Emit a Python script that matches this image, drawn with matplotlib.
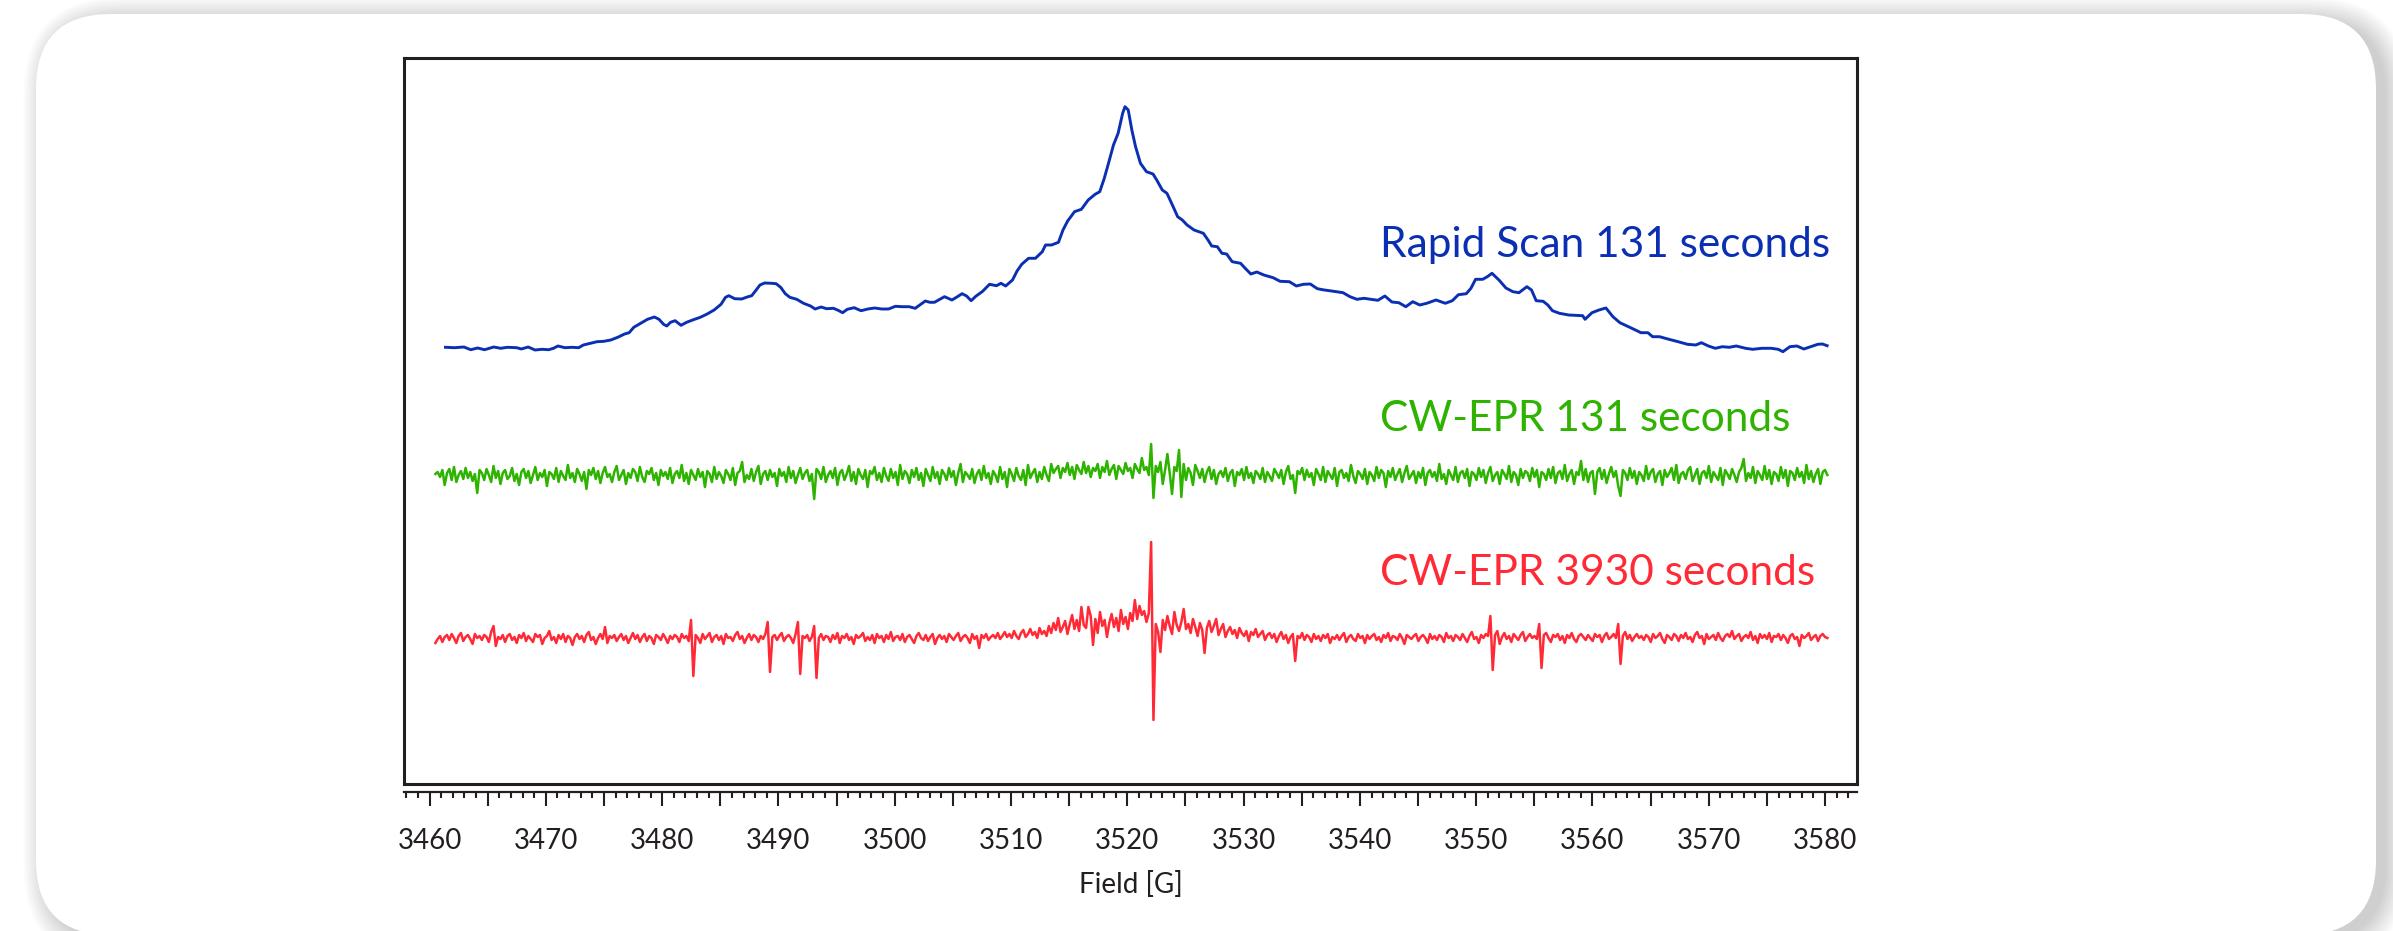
import numpy as np
import matplotlib
matplotlib.use('Agg')
import matplotlib.pyplot as plt
from matplotlib.patches import FancyBboxPatch
from matplotlib.ticker import MultipleLocator, FuncFormatter

plt.rcParams['font.family'] = ['Lato', 'DejaVu Sans']

# Rapid scan absorption spectrum (field in G, intensity in a.u.)
rs_field = [
    3461.37, 3462.16, 3462.95, 3463.54, 3464.13, 3464.73, 3465.52, 3466.11, 3466.70, 3467.49,
    3467.89, 3468.48, 3469.07, 3469.66, 3470.25, 3470.65, 3471.04, 3471.64, 3472.23, 3472.82,
    3473.22, 3473.81, 3474.40, 3474.99, 3475.58, 3476.18, 3476.77, 3477.16, 3477.56, 3478.15,
    3478.74, 3479.33, 3479.73, 3480.12, 3480.40, 3480.72, 3481.11, 3481.62, 3482.10, 3482.69,
    3483.28, 3483.87, 3484.47, 3485.06, 3485.45, 3485.73, 3486.24, 3486.84, 3487.31, 3487.70,
    3488.02, 3488.41, 3488.81, 3489.40, 3489.80, 3490.19, 3490.59, 3490.98, 3491.57, 3492.16,
    3492.76, 3493.15, 3493.67, 3494.14, 3494.73, 3495.13, 3495.52, 3495.92, 3496.51, 3497.10,
    3497.69, 3498.28, 3498.88, 3499.47, 3500.06, 3500.65, 3501.24, 3501.76, 3502.23, 3502.63,
    3503.02, 3503.42, 3503.81, 3504.28, 3504.92, 3505.39, 3505.79, 3506.18, 3506.57, 3506.97,
    3507.56, 3508.15, 3508.75, 3509.14, 3509.54, 3510.13, 3510.52, 3510.92, 3511.51, 3512.10,
    3512.69, 3512.97, 3513.48, 3514.08, 3514.47, 3514.87, 3515.46, 3516.05, 3516.64, 3517.23,
    3517.63, 3518.02, 3518.42, 3518.81, 3519.21, 3519.60, 3519.80, 3520.08, 3520.39, 3520.71,
    3521.13, 3521.65, 3522.21, 3522.53, 3523.01, 3523.41, 3523.81, 3524.33, 3524.73, 3525.14,
    3525.74, 3526.54, 3526.94, 3527.26, 3527.74, 3528.14, 3528.54, 3529.02, 3529.74, 3530.14,
    3530.62, 3531.14, 3531.74, 3532.54, 3533.14, 3533.94, 3534.54, 3535.14, 3535.74, 3536.34,
    3536.94, 3537.75, 3538.55, 3539.15, 3539.75, 3540.35, 3540.95, 3541.55, 3542.15, 3542.75,
    3543.35, 3543.95, 3544.55, 3545.15, 3545.75, 3546.55, 3547.35, 3547.95, 3548.47, 3549.15,
    3549.55, 3549.95, 3550.56, 3550.96, 3551.36, 3551.96, 3552.56, 3553.16, 3553.68, 3554.36,
    3554.76, 3555.16, 3555.76, 3556.16, 3556.56, 3557.16, 3557.96, 3558.56, 3559.16, 3559.36,
    3559.96, 3560.56, 3561.16, 3561.76, 3562.36, 3562.97, 3563.57, 3564.17, 3564.77, 3565.17,
    3565.77, 3566.57, 3567.37, 3568.17, 3568.89, 3569.37, 3569.97, 3570.57, 3571.17, 3571.77,
    3572.37, 3573.17, 3573.77, 3574.57, 3575.38, 3575.98, 3576.38, 3576.98, 3577.58, 3578.18,
    3578.78, 3579.38, 3579.78, 3580.18,
]
rs_signal = [
    0.7, 0.3, 1.0, -1.7, 0.0, -1.7, 1.0, -0.3, 0.7, 0.3,
    -1.0, 1.0, -2.0, -1.3, -1.7, -0.3, 2.0, 0.3, 0.7, 0.3,
    3.0, 4.7, 6.3, 6.7, 8.0, 10.7, 14.0, 15.3, 20.7, 24.7,
    28.7, 31.0, 28.7, 23.7, 22.0, 25.7, 27.3, 22.7, 25.7, 28.3,
    30.7, 34.0, 38.0, 43.7, 50.7, 52.3, 49.3, 49.0, 51.0, 52.3,
    57.0, 63.0, 65.0, 64.7, 64.3, 60.7, 54.3, 50.7, 48.7, 44.7,
    42.0, 39.0, 41.0, 39.3, 39.7, 37.7, 35.3, 38.7, 40.3, 37.3,
    39.0, 40.0, 39.0, 39.0, 41.7, 41.3, 41.3, 39.7, 43.7, 47.0,
    45.7, 45.7, 48.3, 51.3, 48.0, 51.3, 54.3, 52.0, 47.3, 51.7,
    56.7, 63.7, 62.3, 64.7, 62.0, 68.0, 77.0, 83.7, 89.7, 89.7,
    96.3, 103.0, 103.0, 105.7, 118.0, 127.0, 136.3, 138.7, 148.0, 153.7,
    156.3, 169.7, 186.3, 203.0, 214.7, 234.7, 241.3, 238.0, 218.0, 201.3,
    184.7, 176.3, 174.0, 168.0, 158.0, 154.7, 144.7, 131.3, 128.0, 123.0,
    118.0, 114.7, 108.0, 102.0, 101.3, 94.7, 94.0, 86.3, 84.7, 79.7,
    74.0, 76.0, 73.0, 70.3, 66.7, 66.3, 62.0, 63.7, 64.0, 59.3,
    58.0, 56.7, 55.3, 51.3, 48.7, 49.7, 48.7, 47.7, 52.0, 46.0,
    45.3, 41.3, 46.3, 43.0, 44.7, 48.0, 44.7, 47.3, 53.3, 54.3,
    59.7, 68.7, 68.7, 71.3, 74.7, 68.0, 60.0, 56.3, 55.3, 61.3,
    58.0, 47.3, 46.7, 43.0, 37.3, 34.7, 33.0, 32.7, 32.3, 28.7,
    35.3, 38.0, 40.0, 31.3, 25.3, 22.0, 18.7, 15.3, 15.3, 11.3,
    11.3, 8.7, 6.3, 3.7, 3.0, 5.3, 2.0, -0.3, 1.3, 0.7,
    2.0, -0.3, -1.3, -0.3, -0.3, -1.3, -3.7, 1.3, 2.0, -1.0,
    1.3, 3.7, 4.0, 2.3,
]

# CW-EPR sweeps: 600 points from 3460.5 G to 3580.2 G
cw_start, cw_stop = 3460.5, 3580.2
cw131_signal = [
    2, 4, -1, 6, -9, 3, 7, -4, 9, -6, 1, 5, -3, 8, -2, 4, -5, 2, -17, 6,
    3, -4, 7, 1, -6, 10, -2, 5, -8, 3, 6, -3, 0, 8, -5, 2, -9, 4, 7, -2,
    5, -7, 1, 9, -4, 3, -1, 6, -10, 4, 2, -3, 8, -6, 5, 0, -4, 11, -2, 3,
    -6, 7, 2, -5, 4, -13, 6, 1, 8, -3, 5, -7, 3, 9, -1, 2, -6, 4, 10, -4,
    1, 6, -8, 3, -2, 7, 4, -5, 9, -1, -6, 5, 2, 8, -4, 3, -9, 6, 0, 4,
    -3, 8, -7, 2, 5, -2, 11, -5, 3, -8, 6, 1, -4, 7, -1, 4, -11, 5, 2, -6,
    9, -3, 4, 0, -7, 6, 2, -4, 8, -9, 3, 5, 14, -6, 1, -3, 7, -5, 4, 10,
    -8, 2, 5, -4, 6, -1, 3, -10, 7, 0, 4, -6, 9, -2, 5, -7, 1, 8, -3, 3,
    6, -5, 2, -23, 7, 4, -3, 9, -6, 1, 5, -2, 8, -9, 3, 6, -4, 2, 10, -5,
    4, -8, 7, 1, -3, 6, -11, 5, 2, 9, -4, 3, -6, 8, 0, -5, 7, -2, 4, -9,
    11, -3, 5, 2, -7, 6, -1, 8, -4, 3, -10, 7, 1, -5, 9, -2, 4, -8, 6, 2,
    -4, 8, -1, 5, -9, 3, 12, -6, 4, 1, -3, 7, -7, 2, 6, -4, 10, -2, 3, -8,
    5, 1, -6, 9, -3, 4, -11, 7, 2, -5, 8, 0, -4, 6, -9, 11, -2, 3, 7, -6,
    4, -3, 9, 1, -5, 12, 3, 7, 10, -2, 8, 4, 13, 1, 9, -3, 11, 6, 2, 14,
    3, 10, -1, 8, 5, 12, -2, 9, 4, 15, 1, 7, 11, -3, 10, 6, 2, 13, 5, 8,
    -2, 12, 7, 3, 18, 6, 9, 1, 32, -22, 10, 4, 14, -8, 6, 22, 3, -18, 9, 5,
    26, -21, 12, -4, 8, 3, -9, 11, 5, -2, 7, -6, 4, 9, -3, 6, -8, 2, 5, -1,
    8, -5, 3, 6, -10, 4, 1, 7, -4, 9, -2, 3, -7, 5, 2, -3, 8, -6, 4, 0,
    -5, 7, 3, -2, 6, -8, 4, 10, -3, 1, -17, 5, 2, 8, -4, 6, -1, 3, -9, 7,
    2, -4, 9, -6, 5, 1, -3, 8, -10, 4, 6, -2, 3, -5, 11, 0, -7, 5, 2, -3,
    7, -8, 4, 1, -5, 9, -2, 6, 3, -11, 5, -1, 8, -4, 2, 7, -6, 3, 10, -3,
    1, 5, -7, 4, -2, 8, -9, 3, 6, -1, 4, -5, 12, -3, 2, -8, 6, 1, -4, 9,
    -6, 3, 5, -2, 7, -10, 4, 2, -4, 8, -1, 6, -7, 3, 9, -5, 1, 4, -8, 6,
    2, -3, 10, -6, 4, 1, -9, 7, -2, 5, 3, -5, 8, -1, 6, -11, 4, 2, -4, 7,
    -2, 9, -7, 3, 5, -3, 11, -5, 2, 6, -8, 4, 1, 15, -4, 7, -6, 3, 5, -18,
    4, 8, -3, 6, -7, 2, 9, -1, 5, -10, -20, 6, 3, -4, 8, -2, 5, -8, 4, 1,
    -5, 10, -3, 4, 7, -6, 2, 5, -9, 6, -1, 3, 8, -4, 11, -7, 2, 4, -3, 6,
    9, -5, 1, 7, -8, 3, 5, -2, 10, -6, 4, 0, -4, 8, -9, 6, 2, -3, 7, 1,
    -6, 4, 8, 17, -5, 3, -2, 9, -7, 5, 1, -4, 10, -3, 6, -8, 4, 2, -5, 9,
    -2, 6, -10, 5, 3, -4, 8, -1, 4, -7, 11, -3, 5, -6, 2, 7, -8, 4, 6, 1,
]
cw3930_signal = [
    -3, 1, 4, -2, 3, 5, 0, 6, 2, -3, 4, 7, -1, 3, 5, 1, -4, 6, 2, 4,
    0, 5, 3, -2, 8, 14, -6, 3, 1, 5, -2, 4, 6, 0, 3, -3, 5, 2, 7, -1,
    4, 1, -2, 6, 3, 5, -4, 2, 4, 9, 0, 3, -3, 5, 1, 6, -2, 4, 2, -5,
    3, 6, 1, 4, -2, 5, 8, 0, 3, -4, 2, 6, 1, 13, -3, 4, 2, 5, -1, 3,
    6, 0, 4, -3, 2, 7, 1, 5, -2, 3, 6, -1, 4, 2, -4, 5, 3, 0, 6, 2,
    -3, 4, 1, 5, 3, -2, 6, 2, 4, -1, 20, -36, 5, 2, -3, 6, 1, 4, 7, -2,
    3, 5, 0, 4, -4, 6, 2, 3, -1, 5, 8, 1, 4, -3, 2, 6, 0, 5, 3, -2,
    4, 1, 6, 18, -32, 3, 5, 0, 4, 7, -1, 3, 5, 2, -3, 6, 18, -34, 4, 2,
    5, -1, 3, 14, -38, 2, 6, 0, 4, 3, -2, 5, 1, 7, -3, 4, 2, 6, 0, 3,
    -4, 5, 2, 4, 7, -1, 3, 0, 5, -3, 6, 2, 4, -2, 5, 1, 8, -1, 3, 4,
    0, 6, -2, 3, 5, 1, -3, 4, 7, 2, 0, 5, -1, 3, 6, -4, 2, 5, 1, 4,
    -2, 6, 3, 0, 4, 7, -1, 3, 5, 2, -3, 6, 1, 4, -8, 5, 2, 6, 0, 3,
    5, 2, 7, 1, 4, 8, 3, 6, 2, 9, 4, 1, 7, 10, 3, 6, 11, 5, 8, 2,
    12, 6, 9, 4, 14, 7, 17, 10, 22, 8, 13, 19, 6, 16, 25, 11, 20, 9, 33, 15,
    12, 33, 24, -5, 21, 7, 28, 14, 20, 3, 17, 26, 13, 22, 9, 30, 16, 23, 11, 27,
    19, 40, 21, 34, 25, 29, 18, 27, 98, -80, 16, 8, -12, 20, 10, 24, 14, 6, 28, 15,
    9, 18, 31, 11, 16, 7, 21, 13, 4, 17, 10, -13, 12, 19, 8, 14, 21, 5, 11, 16,
    3, 9, 13, 6, 10, 2, 12, 7, 4, 9, -1, 8, 5, 11, 3, 6, 9, 0, 5, 7,
    2, 6, -2, 4, 8, 1, 5, -3, 3, 6, -21, 4, 2, 7, 0, 5, 3, -2, 6, 1,
    4, -1, 5, 2, 6, -3, 3, 1, 5, 0, 4, 7, -2, 3, 5, 1, -1, 6, 2, 4,
    -3, 5, 1, 4, 6, 0, 3, -2, 5, 2, 7, -1, 4, 3, 0, 6, 2, -4, 5, 3,
    1, 4, 6, -1, 3, 5, 2, -3, 6, 1, 4, 0, 5, 3, -2, 7, 2, 4, -1, 5,
    3, 0, 6, 2, -2, 4, 8, 1, 3, -3, 5, 2, 6, 4, 24, -30, 5, 9, -4, 3,
    7, 1, 4, -2, 6, 3, 0, 5, 8, -1, 3, 6, 2, 4, 1, 16, -28, 5, 7, 2,
    -2, 5, 3, 6, 0, 4, -3, 5, 2, 7, 1, -2, 4, 6, 3, 0, 5, 2, -1, 6,
    3, 5, -2, 4, 7, 1, 3, 6, 2, 16, -24, 4, 8, 1, 5, -1, 3, 6, 2, 4,
    0, 5, 3, -2, 6, 2, 4, 7, 1, -3, 5, 3, 0, 6, 4, -1, 5, 2, 7, 1,
    3, -2, 5, 8, 2, 4, -4, 6, 1, 3, 5, 0, 7, 2, -1, 4, 6, 3, 9, 1,
    4, 6, -1, 3, 5, 2, 8, 0, 4, -3, 6, 2, 5, 1, 7, -2, 4, 3, 6, 0,
    5, 2, -3, 4, 6, 1, 3, -6, 5, 2, 4, 7, 0, 3, 5, -1, 4, 6, 3, 2,
]

labels = ['Rapid Scan 131 seconds', 'CW-EPR 131 seconds', 'CW-EPR 3930 seconds']
colors = ['#0b2fb3', '#2db300', '#ff2a36']
offsets = [436, 308, 144]          # vertical stacking of the traces
label_y = [527, 353, 199]
label_x = 3541.7

W, H = 2393, 931
fig = plt.figure(figsize=(W / 100, H / 100), dpi=100)
fig.patch.set_facecolor('white')

# card background with soft shadow (offset to the right)
bg = fig.add_axes([0, 0, 1, 1])
bg.set_xlim(0, W)
bg.set_ylim(H, 0)
bg.axis('off')
for k in range(16):
    p = k * 1.5
    bg.add_patch(FancyBboxPatch((36 - p + 10, 14 - p + 6), 2340 + 2 * p, 921 + 2 * p,
                                boxstyle='round,pad=0,rounding_size=%g' % (75 + p),
                                fc='black', ec='none', alpha=0.012))
bg.add_patch(FancyBboxPatch((36, 14), 2340, 921, boxstyle='round,pad=0,rounding_size=75',
                            fc='white', ec='none'))

x0, x1 = 3457.8, 3582.75
left, right = 404 / W, 1857 / W
top, bottom = 58 / H, 784 / H

ax = fig.add_axes([left, 1 - bottom, right - left, bottom - top])
ax.set_xlim(x0, x1)
ax.set_ylim(0, 726)
ax.set_xticks([])
ax.set_yticks([])
ax.patch.set_alpha(0)
for s in ax.spines.values():
    s.set_linewidth(2.2)
    s.set_color('#231f20')

cw_field = np.linspace(cw_start, cw_stop, len(cw131_signal))
ax.plot(rs_field, np.array(rs_signal) + offsets[0], color=colors[0], lw=2.1)
ax.plot(cw_field, np.array(cw131_signal) + offsets[1], color=colors[1], lw=1.8)
ax.plot(cw_field, np.array(cw3930_signal) + offsets[2], color=colors[2], lw=1.8)

for lab, c, ly in zip(labels, colors, label_y):
    ax.text(label_x, ly, lab, color=c, fontsize=30.5, ha='left', va='baseline')

# separate field ruler below the frame
rul = fig.add_axes([left, 1 - 792 / H, right - left, 0.0001])
rul.set_xlim(x0, x1)
rul.set_yticks([])
rul.patch.set_alpha(0)
for side in ['top', 'left', 'right']:
    rul.spines[side].set_visible(False)
rul.spines['bottom'].set_linewidth(1.6)
rul.spines['bottom'].set_color('#231f20')
rul.xaxis.set_major_locator(MultipleLocator(5))
rul.xaxis.set_minor_locator(MultipleLocator(1))
rul.xaxis.set_major_formatter(FuncFormatter(lambda v, p: '%d' % round(v) if round(v) % 10 == 0 else ''))
rul.tick_params(axis='x', which='major', length=10, width=1.5, color='#231f20',
                labelsize=20, labelcolor='#231f20', pad=16)
rul.tick_params(axis='x', which='minor', length=4.3, width=1.5, color='#231f20')
rul.set_xlabel('Field [G]', fontsize=20, color='#231f20', labelpad=12)

fig.savefig('out.png', dpi=100)
